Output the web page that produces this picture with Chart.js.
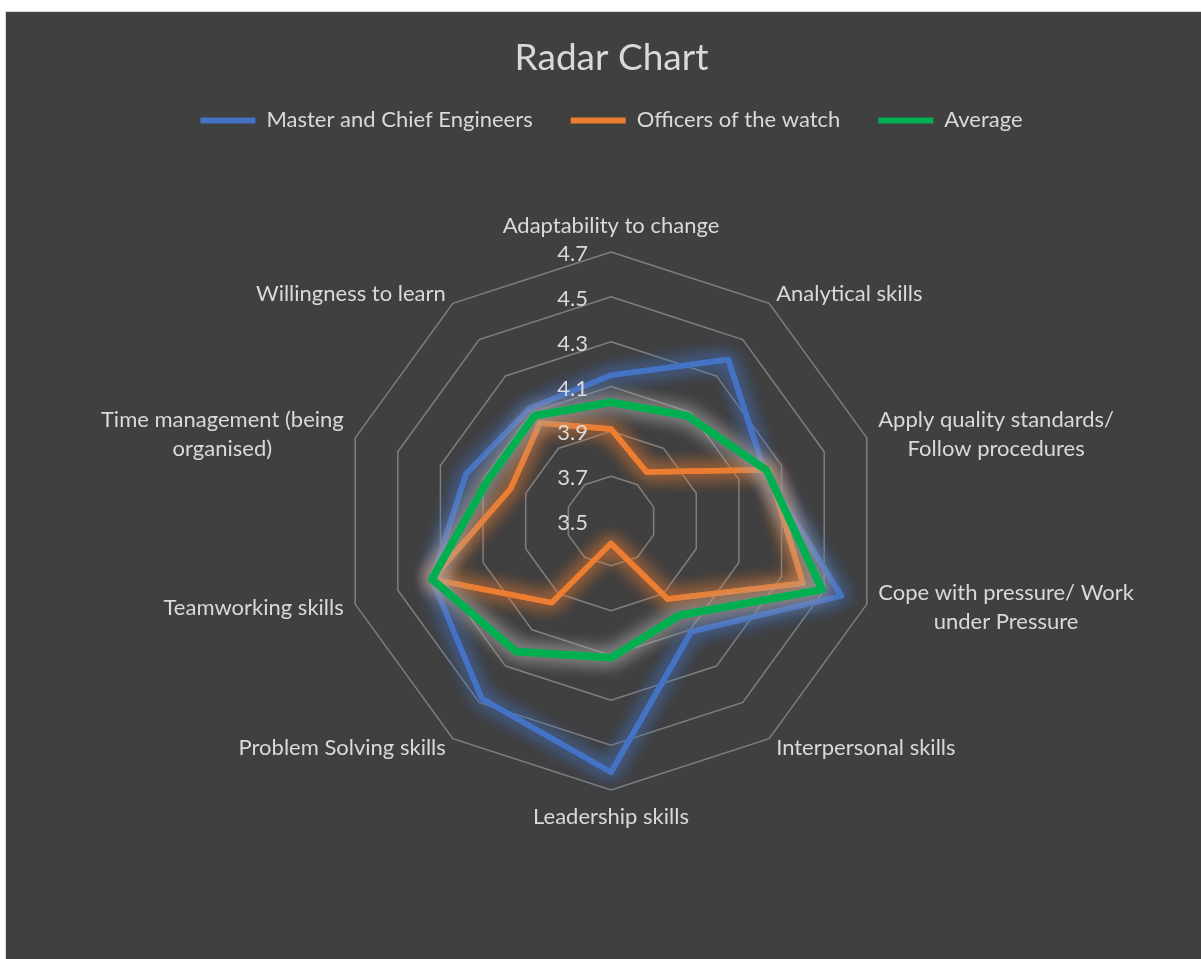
<!DOCTYPE html>
<html>
<head>
<meta charset="utf-8">
<title>Radar Chart</title>
<script src="https://cdn.jsdelivr.net/npm/chart.js@4.4.1/dist/chart.umd.min.js"></script>
<style>
  html, body { margin: 0; padding: 0; background: #ffffff; }
  #wrap {
    position: absolute; left: 5px; top: 11px;
    width: 1196px; height: 948px;
    background: #404040;
    border-top: 1px solid #d9d9d9; border-left: 1px solid #d9d9d9;
    box-sizing: border-box;
  }
</style>
</head>
<body>
<div id="wrap"><canvas id="radarChart"></canvas></div>
<script>
// categories, clockwise from the top
const categories = [
  'Adaptability to change',
  'Analytical skills',
  ['Apply quality standards/', 'Follow procedures'],
  ['Cope with pressure/ Work', 'under Pressure'],
  'Interpersonal skills',
  'Leadership skills',
  'Problem Solving skills',
  'Teamworking skills',
  ['Time management (being', 'organised)'],
  'Willingness to learn'
];

const masterValues   = [4.15, 4.39, 4.22, 4.58, 4.11, 4.62, 4.48, 4.34, 4.18, 4.12];
const officerValues  = [3.91, 3.77, 4.24, 4.40, 3.93, 3.60, 3.95, 4.34, 3.97, 4.04];
const averageValues  = [4.03, 4.08, 4.23, 4.49, 4.02, 4.11, 4.22, 4.34, 4.08, 4.08];

const tickValues = [3.5, 3.7, 3.9, 4.1, 4.3, 4.5, 4.7];

const textColor = '#d9d9d9';
const labelFont = '22px Lato';
const labelLineHeight = 29;

Chart.defaults.font.family = 'Lato';
Chart.defaults.color = textColor;

// soft glow under each series line (Excel "glow" effect)
const glowColors = ['rgba(68, 114, 196, 1)', 'rgba(237, 125, 49, 1)', 'rgba(170, 170, 170, 0.95)'];
const glowPlugin = {
  id: 'glow',
  beforeDatasetDraw(chart, args) {
    const ctx = chart.ctx;
    ctx.save();
    ctx.shadowColor = glowColors[args.index];
    ctx.shadowBlur = 18;
    // extra pass so the halo is as strong as the original
    args.meta.dataset.draw(ctx, chart.chartArea);
  },
  afterDatasetDraw(chart) {
    chart.ctx.restore();
  }
};

// tick labels left of the top axis, category labels placed like Excel does
const radarLabels = {
  id: 'radarLabels',
  afterDatasetsDraw(chart) {
    const scale = chart.scales.r;
    const ctx = chart.ctx;
    ctx.save();
    ctx.fillStyle = textColor;
    ctx.font = labelFont;

    ctx.textAlign = 'right';
    ctx.textBaseline = 'middle';
    tickValues.forEach(v => {
      const y = scale.yCenter - scale.getDistanceFromCenterForValue(v);
      ctx.fillText(v.toFixed(1), scale.xCenter - 23, y + 2);
    });

    ctx.textAlign = 'center';
    chart.data.labels.forEach((label, i) => {
      const lines = Array.isArray(label) ? label : [label];
      const p = scale.getPointPosition(i, scale.drawingArea + 12);
      const deg = Math.round(scale.getIndexAngle(i) * 180 / Math.PI) % 360;
      const w = Math.max(...lines.map(l => ctx.measureText(l).width));
      const h = lines.length * labelLineHeight;
      let left, top;
      if (deg === 0 || deg === 180) left = p.x - w / 2;
      else if (deg < 180) left = p.x;
      else left = p.x - w;
      if (deg === 0) top = p.y - h;
      else if (deg === 180) top = p.y;
      else top = p.y - h / 2;
      lines.forEach((l, j) => ctx.fillText(l, left + w / 2, top + labelLineHeight * (j + 0.5)));
    });
    ctx.restore();
  }
};

const ctx = document.getElementById('radarChart').getContext('2d');
new Chart(ctx, {
  type: 'radar',
  data: {
    labels: categories,
    datasets: [{
      label: 'Master and Chief Engineers',
      data: masterValues,
      borderColor: '#4472c4',
      backgroundColor: '#4472c4',
      borderWidth: 5.5,
      order: 3
    }, {
      label: 'Officers of the watch',
      data: officerValues,
      borderColor: '#ed7d31',
      backgroundColor: '#ed7d31',
      borderWidth: 5.5,
      order: 2
    }, {
      label: 'Average',
      data: averageValues,
      borderColor: '#00b050',
      backgroundColor: '#00b050',
      borderWidth: 7.5,
      order: 1
    }]
  },
  options: {
    responsive: true,
    maintainAspectRatio: false,
    animation: false,
    layout: {
      padding: { left: 16, right: 0, top: 0, bottom: 168 }
    },
    elements: {
      line: { fill: false, tension: 0, borderJoinStyle: 'round', borderCapStyle: 'round' },
      point: { radius: 0, hoverRadius: 0 }
    },
    datasets: {
      radar: { clip: false }
    },
    scales: {
      r: {
        min: tickValues[0],
        max: tickValues[tickValues.length - 1],
        afterBuildTicks: scale => {
          scale.ticks = tickValues.map(v => ({ value: v }));
        },
        ticks: { display: false },
        pointLabels: { display: false },
        angleLines: { display: false },
        grid: { color: '#7f7f7f', lineWidth: 1.5 }
      }
    },
    plugins: {
      title: {
        display: true,
        text: 'Radar Chart',
        color: textColor,
        font: { size: 37, weight: 'normal' },
        padding: { top: 24, bottom: -9 }
      },
      // empty spacer between the legend and the plot
      subtitle: {
        display: true,
        text: '',
        weight: 500,
        font: { size: 10 },
        padding: { top: 98, bottom: 0 }
      },
      legend: {
        position: 'top',
        labels: {
          color: textColor,
          font: { size: 22 },
          boxWidth: 55,
          boxHeight: 6,
          padding: 38,
          useBorderRadius: true,
          borderRadius: 3,
          generateLabels: chart => chart.data.datasets.map((ds, i) => ({
            text: ds.label,
            fillStyle: ds.borderColor,
            strokeStyle: ds.borderColor,
            lineWidth: 0,
            fontColor: textColor,
            datasetIndex: i
          }))
        }
      },
      tooltip: { enabled: false }
    }
  },
  plugins: [glowPlugin, radarLabels]
});
</script>
</body>
</html>
